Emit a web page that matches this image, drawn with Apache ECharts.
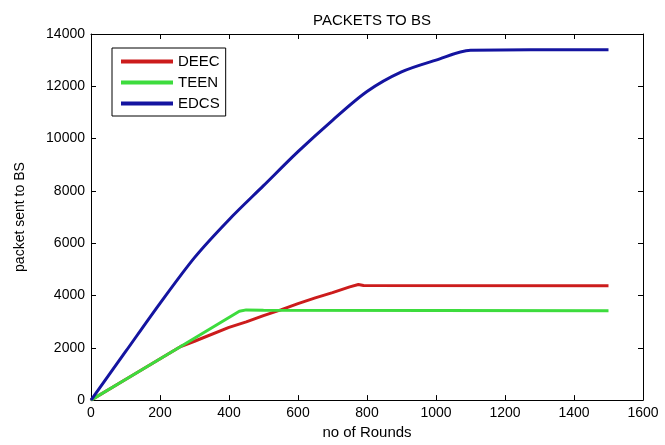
<!DOCTYPE html>
<html>
<head>
<meta charset="utf-8">
<script src="https://cdn.jsdelivr.net/npm/echarts@6/dist/echarts.min.js"></script>
<style>
  html, body { margin: 0; padding: 0; background: #fff; }
  #main { width: 665px; height: 445px; }
</style>
</head>
<body>
<div id="main"></div>
<script>
// rounds (x) and packets (y)
var deecRounds = [0, 100, 260, 300, 400, 450, 500, 550, 600, 650, 700, 750, 775, 790, 1500];
var deecValues = [0, 790, 2050, 2250, 2780, 2990, 3230, 3450, 3690, 3910, 4110, 4330, 4420, 4380, 4370];

var teenRounds = [0, 100, 260, 430, 450, 500, 1500];
var teenValues = [0, 790, 2050, 3400, 3450, 3440, 3420];

var edcsRounds = [0, 100, 200, 300, 400, 500, 600, 700, 800, 900, 1000, 1100, 1500];
var edcsValues = [0, 1850, 3700, 5450, 6900, 8200, 9500, 10700, 11800, 12550, 13000, 13380, 13400];

var xTicks = { min: 0, max: 1600, interval: 200 };
var yTicks = { min: 0, max: 14000, interval: 2000 };

function pairs(xs, ys) {
  var out = [];
  xs.forEach(function (x, i) { out.push([x, ys[i]]); });
  return out;
}

var fontName = 'Liberation Sans, Arial, sans-serif';
var black = '#000';

function axisBase(pos, showLabel, ticks) {
  return {
    type: 'value',
    position: pos,
    min: ticks.min,
    max: ticks.max,
    interval: ticks.interval,
    axisLine: { show: true, onZero: false, lineStyle: { color: black, width: 1 } },
    axisTick: { show: true, inside: true, length: 5, lineStyle: { color: black } },
    splitLine: { show: false },
    axisLabel: {
      show: showLabel, color: black, fontSize: 14, fontFamily: fontName, margin: 6,
      formatter: function (v) { return String(v); }
    }
  };
}

var xMain = axisBase('bottom', true, xTicks);
xMain.name = 'no of Rounds';
xMain.nameLocation = 'middle';
xMain.nameGap = 24;
xMain.nameTextStyle = { color: black, fontSize: 15, fontFamily: fontName };

var yMain = axisBase('left', true, yTicks);
yMain.name = 'packet sent to BS';
yMain.nameLocation = 'middle';
yMain.nameGap = 64;
yMain.nameTextStyle = { color: black, fontSize: 14, fontFamily: fontName };

var chart = echarts.init(document.getElementById('main'), null, { renderer: 'canvas' });
chart.setOption({
  backgroundColor: '#fff',
  animation: false,
  title: {
    text: 'PACKETS TO BS',
    left: 367,
    top: 8,
    textAlign: 'center',
    textStyle: { color: black, fontSize: 15, fontWeight: 'normal', fontFamily: fontName }
  },
  legend: {
    orient: 'vertical',
    left: 112,
    top: 48,
    backgroundColor: '#fff',
    borderColor: black,
    borderWidth: 1,
    padding: [6, 6, 5, 9],
    itemGap: 6,
    itemWidth: 52,
    itemHeight: 4,
    icon: 'rect',
    textStyle: { color: black, fontSize: 15, fontFamily: fontName, lineHeight: 14 },
    data: ['DEEC', 'TEEN', 'EDCS']
  },
  grid: { left: 91, right: 22, top: 34, bottom: 40, containLabel: false },
  xAxis: [xMain, axisBase('top', false, xTicks)],
  yAxis: [yMain, axisBase('right', false, yTicks)],
  series: [
    {
      name: 'DEEC', type: 'line', showSymbol: false, symbol: 'none',
      color: '#cc1c1c', lineStyle: { width: 3, color: '#cc1c1c' },
      data: pairs(deecRounds, deecValues)
    },
    {
      name: 'TEEN', type: 'line', showSymbol: false, symbol: 'none',
      color: '#3ddc3d', lineStyle: { width: 3, color: '#3ddc3d' },
      data: pairs(teenRounds, teenValues)
    },
    {
      name: 'EDCS', type: 'line', showSymbol: false, symbol: 'none',
      smooth: 0.3,
      color: '#1414a0', lineStyle: { width: 3, color: '#1414a0' },
      data: pairs(edcsRounds, edcsValues)
    }
  ]
});
</script>
</body>
</html>
